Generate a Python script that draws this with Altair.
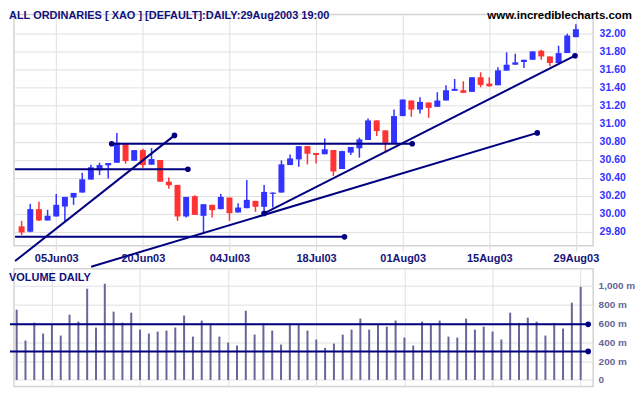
import altair as alt
import pandas as pd

# ---------------- data ----------------
opens = [29.861, 29.802, 30.052, 29.927, 29.971, 30.081, 30.181, 30.236, 30.380, 30.483,
         30.538, 30.567, 30.773, 30.589, 30.707, 30.545, 30.597, 30.357, 30.321, 29.971,
         30.196, 29.978, 30.100, 30.052, 30.181, 30.015, 30.063, 30.144, 30.078, 30.222,
         30.236, 30.541, 30.604, 30.751, 30.675, 30.661, 30.708, 30.497, 30.679, 30.727,
         30.819, 31.036, 30.926, 30.778, 31.084, 31.257, 31.157, 31.235, 31.187, 31.257,
         31.364, 31.371, 31.353, 31.515, 31.445, 31.426, 31.588, 31.654, 31.684, 31.709,
         31.809, 31.746, 31.673, 31.783, 31.960]
highs = [29.923, 30.111, 30.133, 30.045, 30.221, 30.188, 30.232, 30.457, 30.545, 30.567,
         30.564, 30.898, 30.773, 30.707, 30.722, 30.729, 30.597, 30.402, 30.321, 30.188,
         30.207, 30.107, 30.100, 30.221, 30.181, 30.118, 30.376, 30.144, 30.321, 30.236,
         30.593, 30.659, 30.751, 30.751, 30.675, 30.837, 30.708, 30.700, 30.742, 30.845,
         31.058, 31.036, 30.926, 31.157, 31.268, 31.257, 31.293, 31.235, 31.349, 31.426,
         31.496, 31.470, 31.515, 31.570, 31.515, 31.625, 31.791, 31.776, 31.709, 31.802,
         31.820, 31.746, 31.864, 31.997, 32.103]
lows = [29.765, 29.795, 29.920, 29.927, 29.971, 29.916, 30.100, 30.236, 30.380, 30.431,
        30.391, 30.567, 30.556, 30.589, 30.508, 30.545, 30.357, 30.277, 29.923, 29.960,
        29.989, 29.776, 29.960, 30.052, 29.923, 30.015, 30.063, 30.023, 30.034, 30.070,
        30.236, 30.541, 30.523, 30.549, 30.558, 30.661, 30.420, 30.497, 30.653, 30.624,
        30.819, 30.863, 30.697, 30.778, 31.084, 31.076, 31.113, 31.065, 31.187, 31.257,
        31.364, 31.342, 31.353, 31.404, 31.410, 31.426, 31.588, 31.654, 31.618, 31.709,
        31.709, 31.636, 31.673, 31.783, 31.960]
closes = [29.794, 30.052, 29.927, 29.978, 30.100, 30.188, 30.232, 30.383, 30.516, 30.541,
          30.564, 30.788, 30.586, 30.707, 30.541, 30.608, 30.357, 30.317, 29.971, 30.188,
          29.989, 30.107, 30.041, 30.188, 30.008, 30.070, 30.155, 30.078, 30.243, 30.236,
          30.549, 30.615, 30.751, 30.667, 30.653, 30.716, 30.470, 30.696, 30.742, 30.826,
          31.036, 30.918, 30.778, 31.084, 31.268, 31.157, 31.242, 31.176, 31.257, 31.371,
          31.386, 31.342, 31.515, 31.430, 31.415, 31.592, 31.654, 31.680, 31.709, 31.802,
          31.746, 31.673, 31.783, 31.978, 32.048]
volumes = [746, 418, 608, 492, 587, 471, 693, 619, 968, 556,
           1021, 725, 608, 714, 534, 492, 513, 524, 556, 683,
           460, 630, 601, 460, 397, 365, 735, 481, 601, 524,
           376, 601, 587, 524, 429, 340, 386, 481, 534, 651,
           534, 587, 566, 630, 450, 365, 619, 587, 630, 460,
           450, 651, 534, 566, 513, 429, 714, 605, 661, 619,
           471, 605, 545, 820, 989]

tick_idx = [4, 14, 24, 34, 44, 54, 64]
tick_labels = ["05Jun03", "20Jun03", "04Jul03", "18Jul03", "01Aug03", "15Aug03", "29Aug03"]
price_ticks = [29.8, 30.0, 30.2, 30.4, 30.6, 30.8, 31.0, 31.2, 31.4, 31.6, 31.8, 32.0]
vol_ticks = [0, 200, 400, 600, 800, 1000]

# drawn trend lines (bar index, price)
tl_x1 = [-0.757, 10.40, -0.757, -0.757, 8.03, 28.00]
tl_y1 = [30.495, 30.777, 29.745, 29.476, 29.414, 30.005]
tl_x2 = [19.20, 45.10, 37.28, 17.65, 59.54, 63.90]
tl_y2 = [30.495, 30.777, 29.745, 30.870, 30.898, 31.754]
dot_x = [19.20, 10.40, 45.10, 37.28, 17.65, 59.54, 28.00, 63.90]
dot_y = [30.495, 30.777, 30.777, 29.745, 30.870, 30.898, 30.005, 31.754]

# volume reference lines
vl_x1 = [-0.757, -0.757]
vl_x2 = [64.85, 64.85]
vl_y = [590, 303]

title_text = "ALL ORDINARIES [ XAO ] [DEFAULT]:DAILY:29Aug2003 19:00"
site_text = "www.incrediblecharts.com"
vol_title = "VOLUME DAILY"

# ---------------- styling ----------------
BLUE = "#3333ff"
RED = "#ff3333"
NAVY = "#000080"
VOLC = "#666699"
GRID = "#e0e0e0"
FONT = "Liberation Sans"

df = pd.DataFrame({"i": list(range(len(opens))), "open": opens, "high": highs,
                   "low": lows, "close": closes, "vol": volumes})
df["dir"] = ["up" if c >= o else "down" for o, c in zip(opens, closes)]

tl = pd.DataFrame({"x1": tl_x1, "y1": tl_y1, "x2": tl_x2, "y2": tl_y2})
dots = pd.DataFrame({"x": dot_x, "y": dot_y})
vl = pd.DataFrame({"x1": vl_x1, "x2": vl_x2, "y": vl_y})
vdots = pd.DataFrame({"x": vl_x2, "y": vl_y})

W = 581
xscale = alt.Scale(domain=[-0.305, 65.415], nice=False, zero=False)
label_expr = f"{tick_labels}[indexof({tick_idx}, datum.value)]"

xaxis_price = alt.Axis(values=tick_idx, tickCount=40, labelExpr=label_expr, title=None,
                       grid=True, gridColor=GRID, domain=False, ticks=True, tickSize=5,
                       tickColor="#d8d8d8", labelPadding=2, labelFlush=False,
                       labelOverlap=False,
                       labelColor="#14147a", labelFont=FONT, labelFontSize=11,
                       labelFontWeight="bold")
yscale = alt.Scale(domain=[29.645, 32.21], nice=False, zero=False)
yaxis_price = alt.Axis(orient="right", values=price_ticks, tickCount=40, format=".2f",
                       title=None, grid=True, gridColor=GRID, domain=False, ticks=False,
                       tickSize=0, labelPadding=6, labelColor=BLUE, labelFont=FONT,
                       labelOverlap=False, labelFlush=False,
                       labelFontSize=10.5, labelFontWeight="bold")
color = alt.Color("dir:N", scale=alt.Scale(domain=["up", "down"], range=[BLUE, RED]),
                  legend=None)

base = alt.Chart(df)
wicks = base.mark_rule(strokeWidth=1.5).encode(
    x=alt.X("i:Q", scale=xscale, axis=xaxis_price),
    y=alt.Y("low:Q", scale=yscale, axis=yaxis_price),
    y2="high:Q",
    color=color,
)
bodies = base.mark_bar(size=6).encode(
    x=alt.X("i:Q", scale=xscale),
    y=alt.Y("open:Q", scale=yscale),
    y2="close:Q",
    color=color,
)
lines = alt.Chart(tl).mark_rule(color=NAVY, strokeWidth=2).encode(
    x=alt.X("x1:Q", scale=xscale), x2="x2:Q",
    y=alt.Y("y1:Q", scale=yscale), y2="y2:Q",
)
points = alt.Chart(dots).mark_point(filled=True, size=32, color=NAVY, opacity=1).encode(
    x=alt.X("x:Q", scale=xscale), y=alt.Y("y:Q", scale=yscale),
)
one = pd.DataFrame({"a": [0]})
title_mark = alt.Chart(one).mark_text(
    text=title_text, align="left", baseline="top", font=FONT, fontSize=11,
    fontWeight="bold", color="#10107a").encode(x=alt.value(-5), y=alt.value(-5))
site_mark = alt.Chart(one).mark_text(
    text=site_text, align="right", baseline="top", font=FONT, fontSize=11.5,
    fontWeight="bold", color="#000000").encode(x=alt.value(620), y=alt.value(-5))

price = alt.layer(wicks, bodies, lines, points, title_mark, site_mark).properties(
    width=W, height=232)

# volume panel
xaxis_vol = alt.Axis(values=tick_idx, tickCount=40, labels=False, ticks=False,
                     domain=False, grid=True, gridColor=GRID, title=None)
vyscale = alt.Scale(domain=[-68.8, 1180], nice=False, zero=False)
vyaxis = alt.Axis(orient="right", values=vol_ticks, tickCount=40, title=None, grid=True,
                  gridColor=GRID, domain=False, ticks=False, tickSize=0, labelPadding=5,
                  labelOverlap=False, labelFlush=False,
                  labelExpr="datum.value == 0 ? '0' : format(datum.value, ',') + ' m'",
                  labelColor=VOLC, labelFont=FONT, labelFontSize=10,
                  labelFontWeight="bold")
vbars = alt.Chart(df).mark_rule(strokeWidth=2, color=VOLC).encode(
    x=alt.X("i:Q", scale=xscale, axis=xaxis_vol),
    y=alt.Y("vol:Q", scale=vyscale, axis=vyaxis),
    y2=alt.datum(0),
)
vlines = alt.Chart(vl).mark_rule(color=NAVY, strokeWidth=2).encode(
    x=alt.X("x1:Q", scale=xscale), x2="x2:Q", y=alt.Y("y:Q", scale=vyscale),
)
vpoints = alt.Chart(vdots).mark_point(filled=True, size=32, color=NAVY, opacity=1).encode(
    x=alt.X("x:Q", scale=xscale), y=alt.Y("y:Q", scale=vyscale),
)
vtitle = alt.Chart(one).mark_text(
    text=vol_title, align="left", baseline="top", font=FONT, fontSize=11,
    fontWeight="bold", color="#10107a").encode(x=alt.value(-5), y=alt.value(3))

volume = alt.layer(vbars, vlines, vpoints, vtitle).properties(width=W, height=118)

chart = alt.vconcat(price, volume, spacing=23, bounds="flush").properties(
    padding={"left": 0, "top": 0, "right": 0, "bottom": 4},
    background="white",
).configure_view(stroke="#d4d4d4", strokeWidth=1.5)

chart.save("out.html", embed_options={"renderer": "svg", "actions": False})
